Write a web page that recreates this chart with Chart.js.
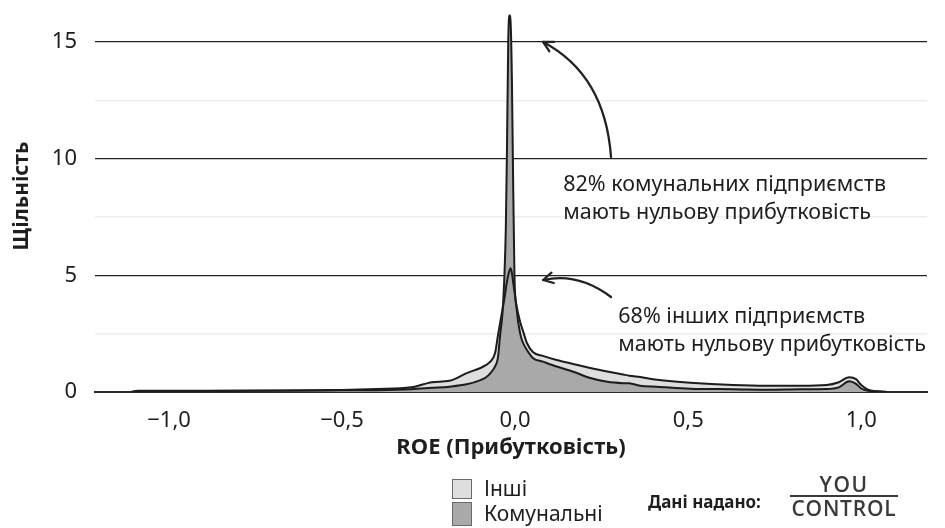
<!DOCTYPE html>
<html>
<head>
<meta charset="utf-8">
<script src="https://cdn.jsdelivr.net/npm/chart.js@4.4.1/dist/chart.umd.min.js"></script>
<style>
  html, body { margin: 0; padding: 0; background: #fff; }
  #wrap { position: relative; width: 945px; height: 528px; overflow: hidden; font-family: 'Noto Sans', sans-serif; color: #1e1e1e; }
  #densityChart { position: absolute; left: 0; top: 0; }
  .box { position: absolute; left: 452px; width: 18px; border: 1.5px solid #6a6a6a; }
  .key { position: absolute; left: 484px; font-size: 21px; line-height: 24px; }
  #source { position: absolute; left: 648px; top: 490px; font-size: 17px; font-weight: bold; line-height: 24px; }
  #logo { position: absolute; left: 790px; top: 473px; width: 108px; text-align: center; color: #3a3a3a; font-family: 'Open Sans', sans-serif; font-weight: 600; font-size: 21px; line-height: 22px; }
  #logo .you { border-bottom: 2px solid #3a3a3a; padding-bottom: 0; letter-spacing: 1.5px; }
  #logo .ctl { letter-spacing: 0.8px; margin-top: 0; }
</style>
</head>
<body>
<div id="wrap">
  <canvas id="densityChart" width="945" height="528"></canvas>
  <div class="box" style="top:479px;height:18px;background:#dedede"></div>
  <div class="box" style="top:502px;height:22px;background:#a9a9a9"></div>
  <div class="key" style="top:476px">Інші</div>
  <div class="key" style="top:501px">Комунальні</div>
  <div id="source">Дані надано:</div>
  <div id="logo"><div class="you">YOU</div><div class="ctl">CONTROL</div></div>
</div>
<script>
// ROE values (x) shared by both density curves
const roe = [-1.11, -1.09, -0.9, -0.7, -0.5, -0.4, -0.3, -0.24, -0.19, -0.14, -0.1, -0.085, -0.072, -0.058, -0.05,
  -0.043, -0.037, -0.031, -0.027, -0.024, -0.02, -0.0165, -0.013, -0.0095, -0.0066, -0.002, 0.004, 0.0145, 0.023,
  0.034, 0.052, 0.08, 0.12, 0.168, 0.217, 0.266, 0.312, 0.33, 0.361, 0.41, 0.506, 0.63, 0.728, 0.824, 0.9, 0.935,
  0.965, 0.985, 1.0, 1.02, 1.075];

// density, "Інші"
const others = [0, 0.05, 0.05, 0.06, 0.09, 0.13, 0.2, 0.42, 0.48, 0.81, 1.03, 1.15, 1.3, 1.67, 2.4,
  3.0, 3.5, 4.0, 4.4, 4.7, 5.0, 5.2, 5.3, 5.1, 4.8, 4.3, 3.7, 3.0, 2.6,
  2.1, 1.7, 1.55, 1.37, 1.2, 1.03, 0.88, 0.75, 0.7, 0.64, 0.53, 0.4, 0.3, 0.27, 0.27, 0.3, 0.42,
  0.63, 0.55, 0.3, 0.1, 0];

// density, "Комунальні"
const communal = [0, 0.04, 0.04, 0.05, 0.07, 0.08, 0.12, 0.18, 0.23, 0.33, 0.51, 0.62, 0.8, 1.1, 1.45,
  2.5, 3.3, 5.0, 7.0, 10.0, 15.0, 16.15, 15.8, 13.5, 10.0, 5.0, 3.6, 2.5, 2.1,
  1.8, 1.45, 1.3, 1.09, 0.87, 0.6, 0.44, 0.38, 0.37, 0.27, 0.23, 0.14, 0.12, 0.1, 0.12, 0.13, 0.2,
  0.46, 0.35, 0.15, 0.05, 0];

const xTicks = [-1, -0.5, 0, 0.5, 1];
const yTicks = [0, 2.5, 5, 7.5, 10, 12.5, 15];

const notes = [
  { x: 0.139, y: [8.87, 7.67], lines: ['82% комунальних підприємств', 'мають нульову прибутковість'] },
  { x: 0.298, y: [3.21, 2.01], lines: ['68% інших підприємств', 'мають нульову прибутковість'] }
];
// arrows: tail, bend, head (in data units)
const arrows = [
  [[0.277, 10.07], [0.26, 13.59], [0.081, 15.0]],
  [[0.277, 4.07], [0.182, 5.14], [0.081, 4.8]]
];

const textColor = '#1e1e1e';
const toPoints = ys => roe.map((x, i) => ({ x: x, y: ys[i] }));
const fmt = v => {
  if (Math.abs(v) < 1e-9) return '0,0';
  return (v < 0 ? '\u2212' : '') + Math.abs(v).toFixed(1).replace('.', ',');
};

const notePlugin = {
  id: 'notePlugin',
  afterDatasetsDraw(chart) {
    const ctx = chart.ctx;
    const xs = chart.scales.x, ys = chart.scales.y;
    ctx.save();
    ctx.fillStyle = textColor;
    ctx.font = '21.5px "Noto Sans"';
    ctx.textBaseline = 'middle';
    ctx.textAlign = 'left';
    notes.forEach(n => {
      n.lines.forEach((t, i) => {
        ctx.fillText(t, xs.getPixelForValue(n.x), ys.getPixelForValue(n.y[i]));
      });
    });
    ctx.strokeStyle = '#222';
    ctx.lineWidth = 2.3;
    ctx.lineCap = 'round';
    arrows.forEach(a => {
      const p = a.map(q => [xs.getPixelForValue(q[0]), ys.getPixelForValue(q[1])]);
      ctx.beginPath();
      ctx.moveTo(p[0][0], p[0][1]);
      ctx.quadraticCurveTo(p[1][0], p[1][1], p[2][0], p[2][1]);
      ctx.stroke();
      const ang = Math.atan2(p[2][1] - p[1][1], p[2][0] - p[1][0]);
      ctx.beginPath();
      [0.5, -0.5].forEach(d => {
        ctx.moveTo(p[2][0], p[2][1]);
        ctx.lineTo(p[2][0] - 11 * Math.cos(ang + d), p[2][1] - 11 * Math.sin(ang + d));
      });
      ctx.stroke();
    });
    ctx.restore();
  }
};

const ctx = document.getElementById('densityChart');
new Chart(ctx, {
  type: 'line',
  data: {
    datasets: [
      {
        label: 'Комунальні',
        data: toPoints(communal),
        borderColor: '#1c1c1c',
        backgroundColor: '#a9a9a9',
        borderWidth: 2,
        fill: 'origin',
        pointRadius: 0,
        cubicInterpolationMode: 'monotone'
      },
      {
        label: 'Інші',
        data: toPoints(others),
        borderColor: '#1c1c1c',
        backgroundColor: '#dedede',
        borderWidth: 2,
        fill: 'origin',
        pointRadius: 0,
        cubicInterpolationMode: 'monotone'
      }
    ]
  },
  options: {
    responsive: false,
    animation: false,
    layout: { padding: { top: 0, right: 18, left: 0, bottom: 0 } },
    plugins: {
      legend: { display: false },
      tooltip: { enabled: false },
      filler: { drawTime: 'beforeDatasetsDraw' }
    },
    scales: {
      x: {
        type: 'linear',
        min: -1.214,
        max: 1.19,
        afterFit: s => { s.height = 136; s.paddingLeft = 0; s.paddingRight = 0; },
        afterBuildTicks: s => { s.ticks = xTicks.map(v => ({ value: v })); },
        grid: { display: false },
        border: { display: true, color: '#2a2a2a', width: 2 },
        ticks: {
          padding: 8,
          color: textColor,
          autoSkip: false,
          maxRotation: 0,
          font: { family: 'Noto Sans', size: 22 },
          callback: v => fmt(v)
        },
        title: {
          display: true,
          text: 'ROE (Прибутковість)',
          color: textColor,
          font: { family: 'Noto Sans', size: 22, weight: 'bold' },
          padding: { top: 0, bottom: 67 }
        }
      },
      y: {
        min: 0,
        max: 16.8,
        afterFit: s => { s.width = 95; s.paddingTop = 0; s.paddingBottom = 0; },
        afterBuildTicks: s => { s.ticks = yTicks.map(v => ({ value: v })); },
        grid: {
          drawTicks: false,
          color: c => (c.tick && c.tick.value % 5 === 0) ? '#222' : '#eeeeee',
          lineWidth: c => (c.tick && c.tick.value % 5 === 0) ? 1.3 : 1.5
        },
        border: { display: false },
        ticks: {
          padding: 18,
          color: textColor,
          font: { family: 'Noto Sans', size: 22 },
          callback: v => (v % 5 === 0 ? String(v) : '')
        },
        title: {
          display: true,
          text: 'Щільність',
          color: textColor,
          font: { family: 'Noto Sans', size: 21, weight: 'bold' },
          padding: { top: 9, bottom: 0 }
        }
      }
    }
  },
  plugins: [notePlugin]
});
</script>
</body>
</html>
